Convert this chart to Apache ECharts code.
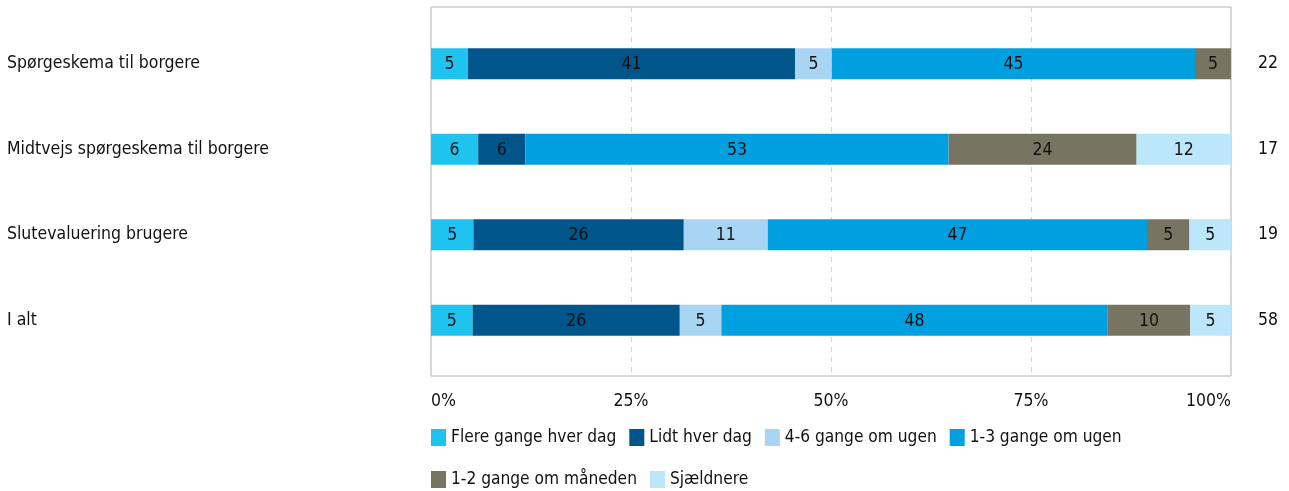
<!DOCTYPE html>
<html>
<head>
<meta charset="utf-8">
<script src="https://cdn.jsdelivr.net/npm/echarts@6/dist/echarts.min.js"></script>
<style>
  html, body { margin: 0; padding: 0; background: #fff; }
  #chart { width: 1289px; height: 491px; }
</style>
</head>
<body>
<div id="chart"></div>
<script>
// Survey groups (top to bottom) and number of respondents per group
const categories = ['Spørgeskema til borgere', 'Midtvejs spørgeskema til borgere', 'Slutevaluering brugere', 'I alt'];
const respondents = ['22', '17', '19', '58'];

// Share of respondents (%) per answer, one array per answer
const flereGange   = [4.6, 5.9, 5.3, 5.2];
const lidtHverDag  = [40.9, 5.9, 26.3, 25.9];
const gange46      = [4.6, 0, 10.5, 5.2];
const gange13      = [45.4, 52.9, 47.4, 48.3];
const gange12Md    = [4.5, 23.5, 5.3, 10.3];
const sjaeldnere   = [0, 11.8, 5.2, 5.1];

const seriesNames = ['Flere gange hver dag', 'Lidt hver dag', '4-6 gange om ugen', '1-3 gange om ugen', '1-2 gange om måneden', 'Sjældnere'];
const seriesData = [flereGange, lidtHverDag, gange46, gange13, gange12Md, sjaeldnere];
const colors = ['#1ec3f0', '#00558a', '#a8d5f4', '#009fdf', '#777562', '#bce6fa'];

const FONT = '"DejaVu Sans Condensed", "DejaVu Sans", sans-serif';
const TEXT = '#111111';

const chart = echarts.init(document.getElementById('chart'), null, { renderer: 'canvas' });

const series = seriesNames.map((name, i) => ({
  name: name,
  type: 'bar',
  stack: 'total',
  xAxisIndex: 1,
  yAxisIndex: 1,
  barWidth: 31,
  itemStyle: { color: colors[i] },
  label: {
    show: true,
    position: 'inside',
    color: TEXT,
    fontFamily: FONT,
    fontSize: 17.5,
    offset: [0, 1],
    formatter: p => (p.value > 0 ? String(Math.round(p.value)) : '')
  },
  emphasis: { disabled: true },
  data: seriesData[i]
}));

const legendCommon = {
  left: 431,
  padding: 0,
  icon: 'rect',
  itemWidth: 15,
  itemHeight: 17,
  itemGap: 13,
  selectedMode: false,
  textStyle: { fontFamily: FONT, fontSize: 17.2, color: TEXT }
};

chart.setOption({
  animation: false,
  color: colors,
  textStyle: { fontFamily: FONT },
  legend: [
    Object.assign({}, legendCommon, { top: 429, data: seriesNames.slice(0, 4) }),
    Object.assign({}, legendCommon, { top: 471, data: seriesNames.slice(4) })
  ],
  grid: [
    // outer frame with the percent scale
    { left: 431, right: 58, top: 7, bottom: 115, show: true, borderColor: '#b4b4b4', borderWidth: 1, backgroundColor: 'transparent' },
    // bar area
    { left: 431, right: 58, top: 21, height: 342 }
  ],
  xAxis: [
    {
      gridIndex: 0, type: 'value', min: 0, max: 100, interval: 25,
      axisLine: { show: false }, axisTick: { show: false },
      splitLine: { show: true, lineStyle: { color: '#d4d4d4', type: [5, 5], width: 1 } },
      axisLabel: {
        formatter: '{value}%', color: TEXT, fontFamily: FONT, fontSize: 17.5, margin: 16,
        alignMinLabel: 'left', alignMaxLabel: 'right'
      }
    },
    {
      gridIndex: 1, type: 'value', min: 0, max: 100, show: false
    }
  ],
  yAxis: [
    { gridIndex: 0, type: 'value', min: 0, max: 1, show: false, splitLine: { show: false } },
    {
      gridIndex: 1, type: 'category', inverse: true, data: categories,
      axisLine: { show: false }, axisTick: { show: false }, splitLine: { show: false },
      axisLabel: { align: 'left', margin: 424, color: TEXT, fontFamily: FONT, fontSize: 17.5, padding: [6, 0, 0, 0] }
    },
    {
      gridIndex: 1, type: 'category', inverse: true, position: 'right', data: respondents,
      axisLine: { show: false }, axisTick: { show: false }, splitLine: { show: false },
      axisLabel: { align: 'left', margin: 27, color: TEXT, fontFamily: FONT, fontSize: 17.5, padding: [6, 0, 0, 0] }
    }
  ],
  series: series
});
</script>
</body>
</html>
